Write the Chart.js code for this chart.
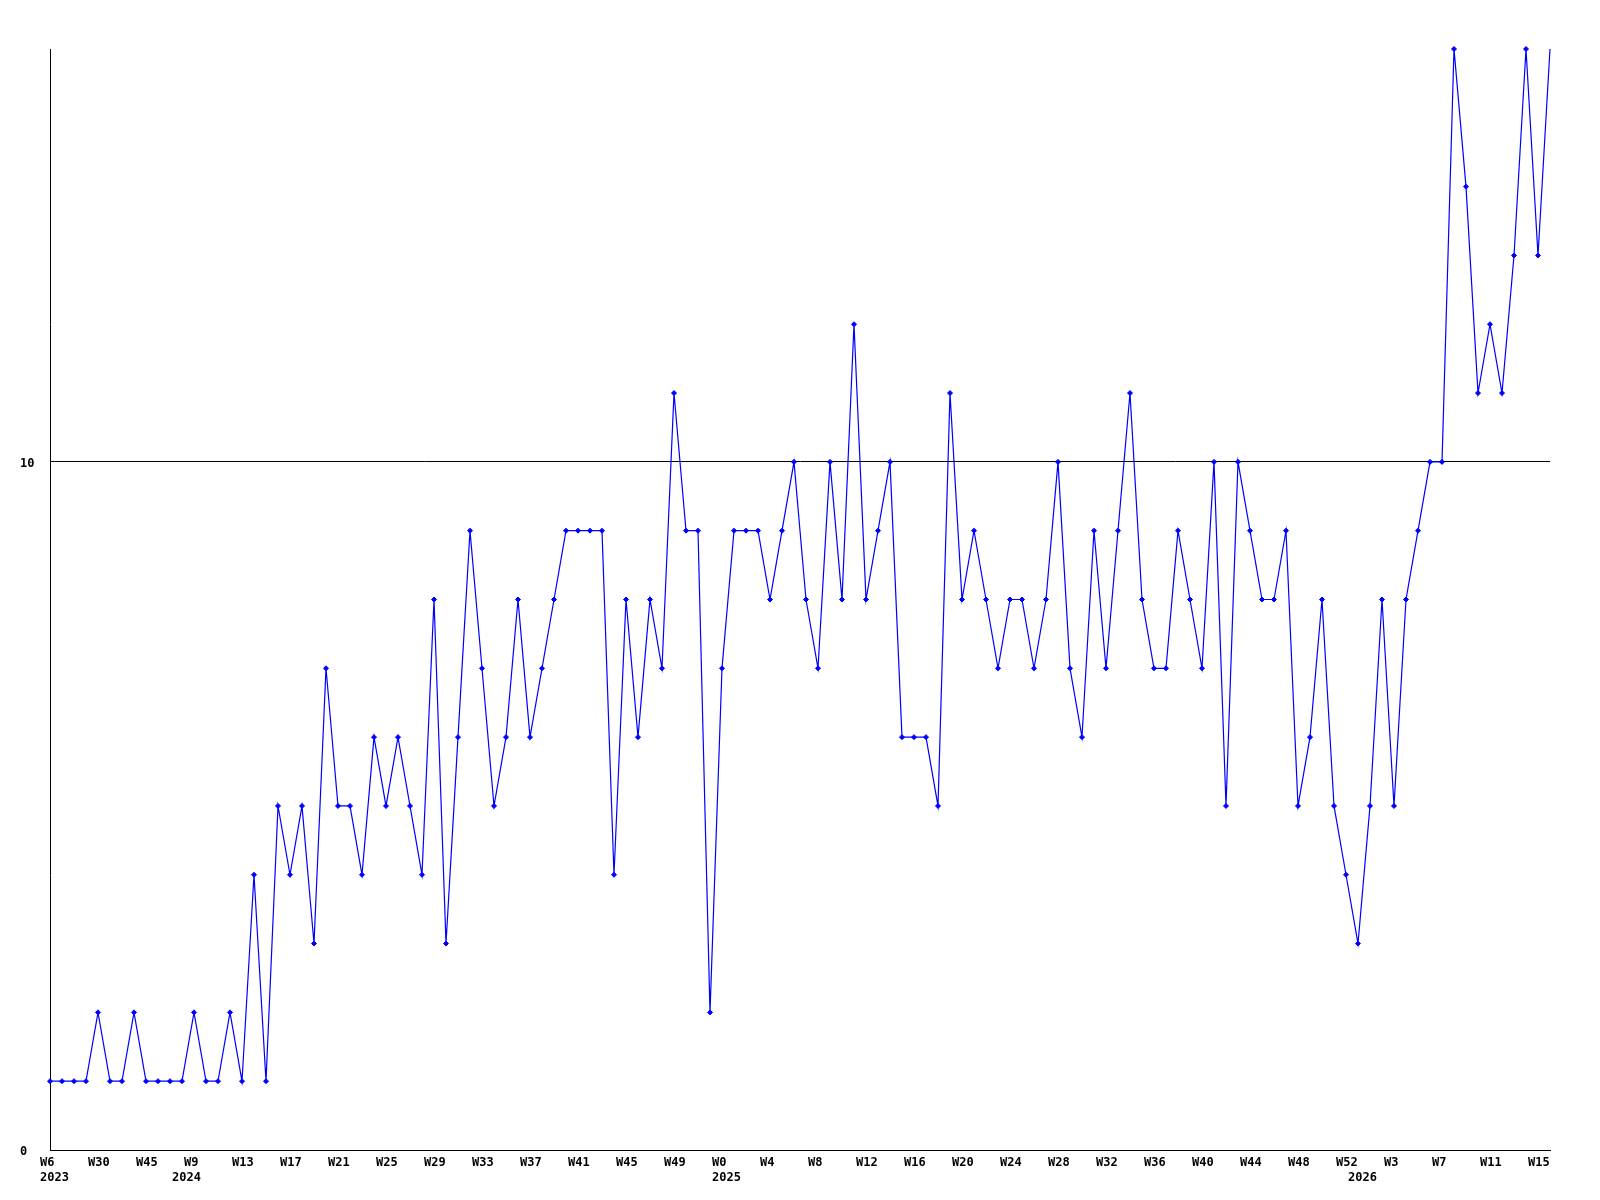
<!DOCTYPE html>
<html>
<head>
<meta charset="utf-8">
<script src="https://cdn.jsdelivr.net/npm/chart.js@4/dist/chart.umd.min.js"></script>
<style>
  html, body { margin: 0; padding: 0; background: #ffffff; }
  #wrap { width: 1600px; height: 1200px; }
</style>
</head>
<body>
<div id="wrap"><canvas id="c" width="1600" height="1200"></canvas></div>
<script>
const categories = [
  "2023-W6","2023-W12","2023-W19","2023-W25","2023-W30","2023-W34","2023-W38","2023-W41","2023-W45","2023-W48","2023-W51",
  "2024-W8","2024-W9","2024-W10","2024-W11","2024-W12","2024-W13","2024-W14","2024-W15","2024-W16","2024-W17","2024-W18",
  "2024-W19","2024-W20","2024-W21","2024-W22","2024-W23","2024-W24","2024-W25","2024-W26","2024-W27","2024-W28","2024-W29",
  "2024-W30","2024-W31","2024-W32","2024-W33","2024-W34","2024-W35","2024-W36","2024-W37","2024-W38","2024-W39","2024-W40",
  "2024-W41","2024-W42","2024-W43","2024-W44","2024-W45","2024-W46","2024-W47","2024-W48","2024-W49","2024-W50","2024-W51",
  "2024-W52",
  "2025-W0","2025-W1","2025-W2","2025-W3","2025-W4","2025-W5","2025-W6","2025-W7","2025-W8","2025-W9","2025-W10",
  "2025-W11","2025-W12","2025-W13","2025-W14","2025-W15","2025-W16","2025-W17","2025-W18","2025-W19","2025-W20","2025-W21",
  "2025-W22","2025-W23","2025-W24","2025-W25","2025-W26","2025-W27","2025-W28","2025-W29","2025-W30","2025-W31","2025-W32",
  "2025-W33","2025-W34","2025-W35","2025-W36","2025-W37","2025-W38","2025-W39","2025-W40","2025-W41","2025-W42","2025-W43",
  "2025-W44","2025-W45","2025-W46","2025-W47","2025-W48","2025-W49","2025-W50","2025-W51","2025-W52",
  "2026-W0","2026-W1","2026-W2","2026-W3","2026-W4","2026-W5","2026-W6","2026-W7","2026-W8","2026-W9","2026-W10",
  "2026-W11","2026-W12","2026-W13","2026-W14","2026-W15","2026-W16"
];

const values = [
  1,1,1,1,2,1,1,2,1,1,
  1,1,2,1,1,2,1,4,1,5,
  4,5,3,7,5,5,4,6,5,6,
  5,4,8,3,6,9,7,5,6,8,
  6,7,8,9,9,9,9,4,8,6,
  8,7,11,9,9,2,7,9,9,9,
  8,9,10,8,7,10,8,12,8,9,
  10,6,6,6,5,11,8,9,8,7,
  8,8,7,8,10,7,6,9,7,9,
  11,8,7,7,9,8,7,10,5,10,
  9,8,8,9,5,6,8,5,4,3,
  5,8,5,8,9,10,10,16,14,11,
  12,11,13,16,13,16
];

const yTickValues = [0, 10];
const yMin = 0;
const yMax = 16;
const labelEvery = 4;

function tickLabel(index) {
  const parts = categories[index].split('-');
  const yr = parts[0], wk = parts[1];
  const prevYr = index > 0 ? categories[index - 1].split('-')[0] : null;
  const showWeek = index % labelEvery === 0;
  const showYear = yr !== prevYr;
  if (!showWeek && !showYear) return '';
  if (showYear) return [showWeek ? wk : '', yr];
  return wk;
}

Chart.defaults.font.family = "'DejaVu Sans Mono', 'Liberation Mono', monospace";
Chart.defaults.font.weight = 'bold';
Chart.defaults.font.size = 12;
Chart.defaults.color = '#000000';

const pointRadii = values.map((v, i) => i === values.length - 1 ? 0 : 2.5);

new Chart(document.getElementById('c'), {
  type: 'line',
  data: {
    labels: categories,
    datasets: [{
      label: 'count',
      data: values,
      borderColor: '#0000ff',
      borderWidth: 1.2,
      backgroundColor: '#0000ff',
      pointBackgroundColor: '#0000ff',
      pointBorderColor: '#0000ff',
      pointBorderWidth: 1,
      pointStyle: 'rectRot',
      pointRadius: pointRadii,
      tension: 0,
      fill: false,
      clip: false
    }]
  },
  options: {
    responsive: false,
    animation: false,
    layout: { padding: { left: 20, top: 49, right: 50, bottom: 0 } },
    plugins: { legend: { display: false }, tooltip: { enabled: false }, title: { display: false } },
    scales: {
      x: {
        type: 'category',
        offset: false,
        grid: { display: false, drawTicks: false },
        border: { display: true, color: '#000000', width: 1 },
        ticks: {
          autoSkip: false,
          maxRotation: 0,
          minRotation: 0,
          align: 'start',
          labelOffset: -10,
          padding: 5,
          font: { size: 12, weight: 'bold', lineHeight: 1.25 },
          color: '#000000',
          callback: function (value, index) { return tickLabel(index); }
        },
        afterFit: function (scale) {
          scale.height = 50;
          scale.paddingLeft = 0;
          scale.paddingRight = 0;
        }
      },
      y: {
        type: 'linear',
        position: 'left',
        min: yMin,
        max: yMax,
        grid: { display: true, color: '#000000', lineWidth: 1, drawTicks: false },
        border: { display: true, color: '#000000', width: 1 },
        ticks: {
          crossAlign: 'far',
          padding: 0,
          labelOffset: 2,
          font: { size: 12, weight: 'bold' },
          color: '#000000'
        },
        afterBuildTicks: function (scale) {
          scale.ticks = yTickValues.map(v => ({ value: v }));
        },
        afterFit: function (scale) {
          scale.width = 30;
          scale.paddingTop = 0;
          scale.paddingBottom = 0;
        }
      }
    }
  }
});
</script>
</body>
</html>
